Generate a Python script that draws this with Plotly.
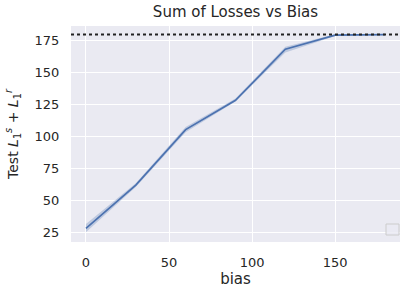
import plotly.graph_objects as go

bias = [0, 30, 60, 90, 120, 150, 180]
mean_loss = [28.0, 62.0, 105.5, 128.5, 168.5, 179.5, 180.0]
lower = [25.0, 60.5, 103.5, 127.5, 166.0, 178.8, 179.6]
upper = [31.5, 63.5, 107.5, 129.8, 170.5, 180.2, 180.4]
ref_level = 180
x_ticks = [0, 50, 100, 150]
y_ticks = [25, 50, 75, 100, 125, 150, 175]

blue = "#4C72B0"
fig = go.Figure()
fig.add_trace(go.Scatter(x=bias + bias[::-1], y=upper + lower[::-1], fill="toself", mode="lines",
                         fillcolor="rgba(76,114,176,0.28)", line=dict(width=0),
                         hoverinfo="skip", showlegend=False))
fig.add_trace(go.Scatter(x=bias, y=mean_loss, mode="lines",
                         line=dict(color=blue, width=1.7), showlegend=False))
fig.add_hline(y=ref_level, line=dict(color="#222222", width=2, dash="dot"))

# empty legend frame
fig.add_shape(type="rect", xref="paper", yref="paper",
              x0=(386 - 71) / 329, x1=(399 - 71) / 329,
              y0=(242 - 235) / 216, y1=(242 - 224) / 216,
              line=dict(color="#cccccc", width=1), fillcolor="rgba(234,234,242,0.8)")

font = "DejaVu Sans, sans-serif"
fig.update_layout(
    width=411, height=292,
    margin=dict(l=71, r=11, t=26, b=50),
    paper_bgcolor="white", plot_bgcolor="#EAEAF2",
    font=dict(family=font, size=13, color="#262626"),
    title=dict(text="Sum of Losses vs Bias", x=(71 + 400) / 2 / 411, xanchor="center",
               y=1 - 12 / 292, yanchor="middle", font=dict(size=15, color="#262626")),
    xaxis=dict(range=[-9, 189], tickvals=x_ticks, showgrid=True, gridcolor="white",
               gridwidth=1.2, zeroline=False, showline=False, automargin=False,
               ticks="outside", ticklen=8, tickcolor="rgba(0,0,0,0)",
               title=dict(text="bias", font=dict(size=15), standoff=4)),
    yaxis=dict(range=[17.4, 186.7], tickvals=y_ticks, showgrid=True, gridcolor="white",
               gridwidth=1.2, zeroline=False, showline=False, automargin=False,
               ticks="outside", ticklen=8, tickcolor="rgba(0,0,0,0)",
               title=dict(text="Test <i>L</i><sub>1</sub><sup><i>s</i></sup> + <i>L</i><sub>1</sub><sup><i>r</i></sup>",
                          font=dict(size=14), standoff=12)),
)
fig.write_html("out.html", config={"displayModeBar": False},
               post_script="document.body.style.margin='0';document.body.style.overflow='hidden';")
